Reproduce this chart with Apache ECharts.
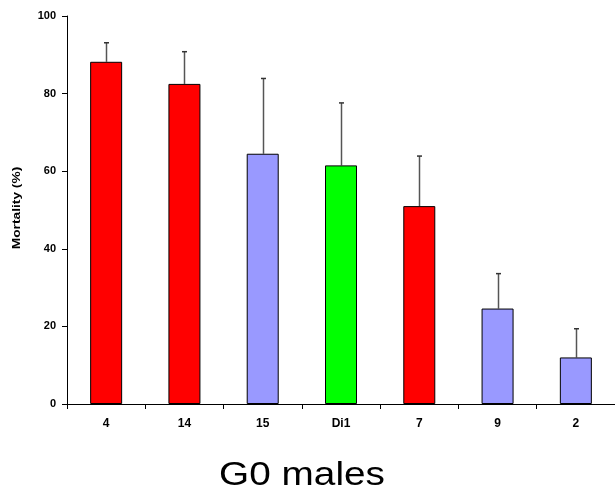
<!DOCTYPE html>
<html>
<head>
<meta charset="utf-8">
<script src="https://cdn.jsdelivr.net/npm/echarts@6/dist/echarts.min.js"></script>
<style>
  html, body { margin: 0; padding: 0; background: #fff; }
  #chart { width: 615px; height: 495px; }
</style>
</head>
<body>
<div id="chart"></div>
<script>
// Mortality of G0 males per line, with upper error whiskers
const categories = ['4', '14', '15', 'Di1', '7', '9', '2'];
const mortality = [88.2, 82.5, 64.5, 61.5, 51.0, 24.6, 12.0];
const errorTop = [93.1, 90.8, 83.9, 77.6, 63.9, 33.6, 19.4];
const barColors = ['#ff0000', '#ff0000', '#9999ff', '#00ff00', '#ff0000', '#9999ff', '#9999ff'];
const yTicks = [0, 20, 40, 60, 80, 100];
const chartTitle = 'G0 males';
const yName = 'Mortality (%)';

const chart = echarts.init(document.getElementById('chart'));
const fontFamily = 'Liberation Sans, Arial, sans-serif';
const labelFont = { fontFamily: fontFamily, fontWeight: 'bold', color: '#000' };

chart.setOption({
  animation: false,
  grid: { left: 67, top: 16, width: 550, height: 388, containLabel: false },
  graphic: [
    {
      type: 'text',
      x: 302, y: 476,
      scaleX: 1.14,
      style: {
        text: chartTitle,
        fontFamily: fontFamily, fontSize: 34, fill: '#000',
        align: 'center', verticalAlign: 'middle'
      }
    },
    {
      type: 'text',
      x: 17, y: 208,
      rotation: Math.PI / 2,
      scaleX: 1.25,
      style: {
        text: yName,
        fontFamily: fontFamily, fontWeight: 'bold', fontSize: 11, fill: '#000',
        align: 'center', verticalAlign: 'middle'
      }
    }
  ],
  xAxis: {
    type: 'category',
    data: categories,
    boundaryGap: true,
    axisLine: { lineStyle: { color: '#000', width: 1 } },
    axisTick: { show: true, alignWithLabel: false, length: 5, lineStyle: { color: '#000' } },
    axisLabel: Object.assign({ fontSize: 12, margin: 14 }, labelFont),
    splitLine: { show: false }
  },
  yAxis: {
    type: 'value',
    min: yTicks[0], max: yTicks[yTicks.length - 1], interval: 20,
    axisLine: { show: true, lineStyle: { color: '#000', width: 1 } },
    axisTick: { show: true, length: 5, lineStyle: { color: '#000' } },
    axisLabel: Object.assign({ fontSize: 11, margin: 11 }, labelFont),
    splitLine: { show: false }
  },
  series: [
    {
      type: 'custom',
      z: 1,
      renderItem: function (params, api) {
        const i = api.value(0);
        const base = api.coord([i, api.value(1)]);
        const top = api.coord([i, api.value(2)]);
        const x = Math.round(base[0]) + 0.5;
        return {
          type: 'group',
          children: [
            { type: 'line', shape: { x1: x, y1: base[1], x2: x, y2: top[1] },
              style: { stroke: '#555', lineWidth: 1.5 } },
            { type: 'line', shape: { x1: x - 2.5, y1: top[1], x2: x + 2.5, y2: top[1] },
              style: { stroke: '#333', lineWidth: 1.5 } }
          ]
        };
      },
      data: categories.map((c, i) => [i, mortality[i], errorTop[i]])
    },
    {
      type: 'bar',
      z: 2,
      barWidth: 32,
      data: mortality.map((v, i) => ({
        value: v,
        itemStyle: { color: barColors[i], borderColor: '#000', borderWidth: 1 }
      }))
    }
  ]
});
</script>
</body>
</html>
